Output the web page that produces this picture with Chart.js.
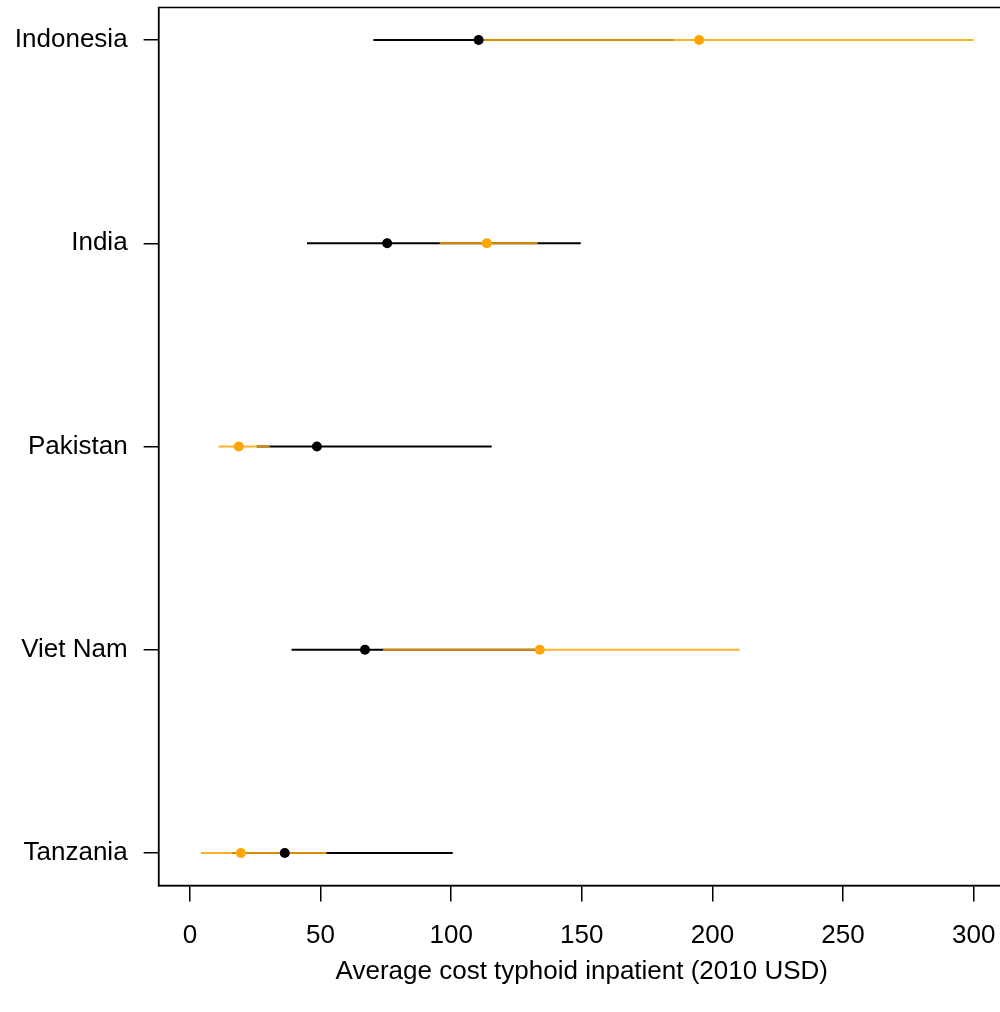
<!DOCTYPE html>
<html>
<head>
<meta charset="utf-8">
<script src="https://cdn.jsdelivr.net/npm/chart.js@4.4.1/dist/chart.umd.min.js"></script>
<style>
  html, body { margin: 0; padding: 0; background: #fff; overflow: hidden; }
  #wrap { width: 1010px; height: 1012px; }
</style>
</head>
<body>
<div id="wrap"><canvas id="c" width="1010" height="1012"></canvas></div>
<script>
// ---- data ----
const countries   = ['Indonesia', 'India', 'Pakistan', 'Viet Nam', 'Tanzania'];
const blackMid    = [110.5, 75.5, 48.6, 67.0, 36.3];
const blackLow    = [70.2, 44.8, 25.5, 38.9, 16.0];
const blackHigh   = [185.0, 149.6, 115.5, 134.0, 100.6];
const orangeMid   = [194.9, 113.6, 18.7, 133.9, 19.5];
const orangeLow   = [111.0, 95.6, 11.0, 73.9, 4.2];
const orangeHigh  = [300.0, 133.1, 30.5, 210.4, 52.3];
const xTicks      = [0, 50, 100, 150, 200, 250, 300];
const xTitle      = 'Average cost typhoid inpatient (2010 USD)';

const BLACK = '#000000';
const ORANGE_LINE = 'rgba(255,165,0,0.85)';
const ORANGE_PT = '#FFA500';
const FONT = { family: "'Liberation Sans', Arial, Helvetica, sans-serif", size: 26 };

const datasets = [];
// points (top)
datasets.push({
  label: 'black points', order: 0,
  data: countries.map((c, i) => ({ x: blackMid[i], y: i + 1 })),
  backgroundColor: BLACK, borderColor: BLACK, pointRadius: 5, borderWidth: 0, showLine: false
});
datasets.push({
  label: 'orange points', order: 0,
  data: countries.map((c, i) => ({ x: orangeMid[i], y: i + 1 })),
  backgroundColor: ORANGE_PT, borderColor: ORANGE_PT, pointRadius: 5, borderWidth: 0, showLine: false
});
// orange ranges
countries.forEach((c, i) => {
  datasets.push({
    label: 'orange ' + c, order: 1,
    data: [{ x: orangeLow[i], y: i + 1 }, { x: orangeHigh[i], y: i + 1 }],
    borderColor: ORANGE_LINE, borderWidth: 2, pointRadius: 0, showLine: true, fill: false
  });
});
// black ranges
countries.forEach((c, i) => {
  datasets.push({
    label: 'black ' + c, order: 2,
    data: [{ x: blackLow[i], y: i + 1 }, { x: blackHigh[i], y: i + 1 }],
    borderColor: BLACK, borderWidth: 2, pointRadius: 0, showLine: true, fill: false
  });
});

const boxPlugin = {
  id: 'box',
  afterDraw(chart) {
    const { ctx, chartArea: a } = chart;
    ctx.save();
    ctx.strokeStyle = '#000';
    ctx.lineWidth = 1.5;
    ctx.strokeRect(a.left, a.top, a.right - a.left, a.bottom - a.top);
    ctx.restore();
  }
};

new Chart(document.getElementById('c'), {
  type: 'scatter',
  data: { datasets },
  options: {
    responsive: false,
    animation: false,
    events: [],
    layout: { padding: { top: 7.5, right: 4.3, left: 0, bottom: 0 } },
    plugins: { legend: { display: false }, tooltip: { enabled: false } },
    scales: {
      x: {
        type: 'linear', position: 'bottom', min: -12, max: 312,
        afterBuildTicks: (s) => { s.ticks = xTicks.map(v => ({ value: v })); },
        afterFit: (s) => { s.height = 1012 - 885.5; s.paddingLeft = 0; s.paddingRight = 0; },
        ticks: { color: '#000', font: FONT, padding: 19, maxRotation: 0, autoSkip: false },
        grid: { drawOnChartArea: false, drawTicks: true, tickLength: 16, color: '#000', lineWidth: 1.5 },
        border: { display: true, color: '#000', width: 1.5 },
        title: { display: true, text: xTitle, color: '#000', font: FONT, padding: { top: 0, bottom: 25 } }
      },
      y: {
        type: 'linear', reverse: true, min: 0.84, max: 5.16,
        afterBuildTicks: (s) => { s.ticks = countries.map((c, i) => ({ value: i + 1 })); },
        afterFit: (s) => { s.width = 158.6; s.paddingTop = 0; s.paddingBottom = 0; },
        ticks: {
          color: '#000', font: FONT, padding: 16, autoSkip: false,
          callback: (v) => countries[Math.round(v) - 1]
        },
        grid: { drawOnChartArea: false, drawTicks: true, tickLength: 15, color: '#000', lineWidth: 1.5 },
        border: { display: true, color: '#000', width: 1.5 }
      }
    }
  },
  plugins: [boxPlugin]
});
</script>
</body>
</html>
